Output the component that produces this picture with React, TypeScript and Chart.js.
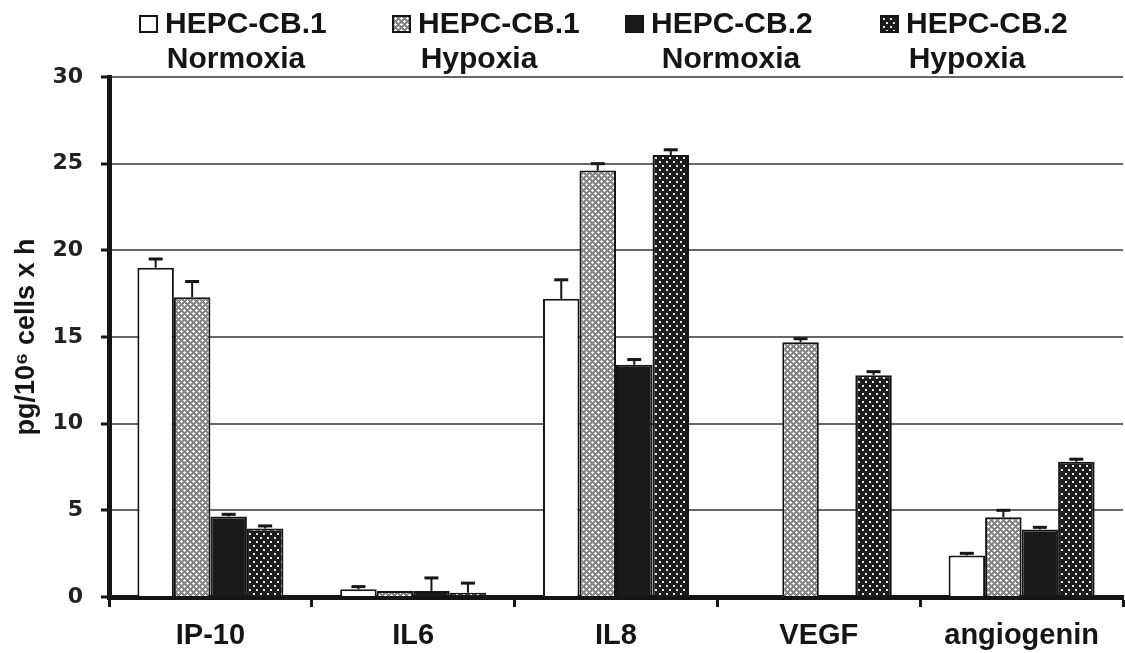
import React, { useEffect, useMemo, useRef } from "react";
import { Chart, registerables } from "chart.js";

Chart.register(...registerables);

// ---------- data ----------
const categories = ["IP-10", "IL6", "IL8", "VEGF", "angiogenin"];
const seriesLine1 = ["HEPC-CB.1", "HEPC-CB.1", "HEPC-CB.2", "HEPC-CB.2"];
const seriesLine2 = ["Normoxia", "Hypoxia", "Normoxia", "Hypoxia"];

const cb1Normoxia = [19.0, 0.45, 17.2, 0, 2.4];
const cb1Hypoxia = [17.3, 0.35, 24.6, 14.7, 4.6];
const cb2Normoxia = [4.65, 0.35, 13.4, 0, 3.9];
const cb2Hypoxia = [3.95, 0.25, 25.5, 12.8, 7.8];

const cb1NormoxiaErr = [0.5, 0.15, 1.1, 0, 0.12];
const cb1HypoxiaErr = [0.9, 0, 0.4, 0.2, 0.4];
const cb2NormoxiaErr = [0.12, 0.75, 0.3, 0, 0.12];
const cb2HypoxiaErr = [0.15, 0.55, 0.3, 0.2, 0.15];

const yTicks = [0, 5, 10, 15, 20, 25, 30];
const yTitle = "pg/10\u2076 cells x h";

// ---------- patterns ----------
type Kind = "white" | "hatch" | "black" | "dots";

function makeTile(kind: Kind): HTMLCanvasElement {
  const c = document.createElement("canvas");
  if (kind === "hatch") {
    c.width = 6;
    c.height = 6;
    const g = c.getContext("2d")!;
    g.fillStyle = "#858585";
    g.fillRect(0, 0, 6, 6);
    g.fillStyle = "#ffffff";
    const plus = (x: number, y: number) => {
      g.fillRect(x - 1, y, 3, 1);
      g.fillRect(x, y - 1, 1, 3);
    };
    plus(1, 1);
    plus(4, 4);
  } else if (kind === "dots") {
    c.width = 7;
    c.height = 8;
    const g = c.getContext("2d")!;
    g.fillStyle = "#1c1c1c";
    g.fillRect(0, 0, 7, 8);
    g.fillStyle = "#e6e6e6";
    g.fillRect(1, 1, 2, 2);
    g.fillRect(4, 5, 2, 2);
  } else {
    c.width = 4;
    c.height = 4;
    const g = c.getContext("2d")!;
    g.fillStyle = kind === "black" ? "#1a1a1a" : "#ffffff";
    g.fillRect(0, 0, 4, 4);
  }
  return c;
}

const kinds: Kind[] = ["white", "hatch", "black", "dots"];
const seriesValues = [cb1Normoxia, cb1Hypoxia, cb2Normoxia, cb2Hypoxia];
const seriesErrors = [cb1NormoxiaErr, cb1HypoxiaErr, cb2NormoxiaErr, cb2HypoxiaErr];

const errorBarPlugin = {
  id: "errorBars",
  afterDatasetsDraw(chart: any) {
    const ctx = chart.ctx as CanvasRenderingContext2D;
    const yScale = chart.scales.y;
    chart.data.datasets.forEach((ds: any, i: number) => {
      const meta = chart.getDatasetMeta(i);
      meta.data.forEach((el: any, j: number) => {
        const e = ds.errors ? ds.errors[j] : 0;
        if (!e) return;
        const v = ds.data[j];
        const yTop = yScale.getPixelForValue(v);
        const yCap = yScale.getPixelForValue(v + e);
        ctx.save();
        ctx.strokeStyle = "#151515";
        ctx.lineWidth = 2;
        ctx.beginPath();
        ctx.moveTo(el.x, yTop);
        ctx.lineTo(el.x, yCap);
        ctx.stroke();
        ctx.lineWidth = 3;
        ctx.beginPath();
        ctx.moveTo(el.x - 7, yCap);
        ctx.lineTo(el.x + 7, yCap);
        ctx.stroke();
        ctx.restore();
      });
    });
  },
};

// legend layout (pixels)
const legendSwatchX = [139, 392, 625, 880];
const legendLine2Center = [236, 479, 731, 967];

export default function App() {
  const canvasRef = useRef<HTMLCanvasElement | null>(null);

  const tiles = useMemo(() => kinds.map((k) => makeTile(k)), []);
  const tileUrls = useMemo(() => tiles.map((t) => t.toDataURL()), [tiles]);

  useEffect(() => {
    const canvas = canvasRef.current;
    if (!canvas) return;
    const ctx = canvas.getContext("2d")!;
    const fills = tiles.map((t) => ctx.createPattern(t, "repeat") as CanvasPattern);

    const chart = new Chart(canvas, {
      type: "bar",
      data: {
        labels: categories,
        datasets: seriesValues.map((vals, i) => ({
          label: seriesLine1[i] + " " + seriesLine2[i],
          data: vals,
          errors: seriesErrors[i],
          backgroundColor: fills[i],
          borderColor: "#151515",
          borderWidth: 2,
          categoryPercentage: 0.72,
          barPercentage: 1.0,
        })) as any,
      },
      options: {
        animation: false,
        responsive: false,
        maintainAspectRatio: false,
        layout: { padding: { top: 77, right: 2, left: 0, bottom: 0 } },
        plugins: {
          legend: { display: false },
          tooltip: { enabled: false },
        },
        scales: {
          x: {
            afterFit: (s: any) => {
              s.height = 56;
            },
            grid: {
              offset: true,
              drawOnChartArea: false,
              drawTicks: true,
              tickLength: 10,
              tickWidth: 3,
              tickColor: "#151515",
            },
            border: { display: true, color: "#151515", width: 5 },
            ticks: {
              color: "#151515",
              padding: 12,
              font: { family: "'Liberation Sans', Arial, sans-serif", size: 29, weight: "bold" },
            },
          },
          y: {
            min: 0,
            max: 30,
            afterFit: (s: any) => {
              s.width = 109;
            },
            afterBuildTicks: (s: any) => {
              s.ticks = yTicks.map((v) => ({ value: v }));
            },
            grid: {
              color: "#666666",
              lineWidth: 2,
              drawTicks: true,
              tickLength: 8,
              tickWidth: 3,
              tickColor: "#151515",
            },
            border: { display: true, color: "#151515", width: 5 },
            ticks: {
              color: "#222222",
              padding: 18,
              font: { family: "'DejaVu Sans', sans-serif", size: 22, weight: "bold" },
            },
            title: {
              display: true,
              text: yTitle,
              color: "#151515",
              padding: { top: 10, bottom: 0 },
              font: { family: "'Liberation Sans', Arial, sans-serif", size: 27, weight: "bold", lineHeight: 1.2 },
            },
          },
        },
      } as any,
      plugins: [errorBarPlugin],
    });
    return () => chart.destroy();
  }, [tiles]);

  const legendFont = "'Liberation Sans', Arial, sans-serif";

  return (
    <div
      style={{
        position: "fixed",
        left: 0,
        top: 0,
        width: 1125,
        height: 653,
        background: "#ffffff",
        overflow: "hidden",
      }}
    >
      <canvas ref={canvasRef} width={1125} height={653} style={{ display: "block", width: 1125, height: 653 }} />
      {seriesLine1.map((l1, i) => (
        <React.Fragment key={i}>
          <div
            style={{
              position: "absolute",
              left: legendSwatchX[i],
              top: 15,
              width: 15,
              height: 14,
              border: "2px solid #151515",
              backgroundImage: `url(${tileUrls[i]})`,
              backgroundRepeat: "repeat",
            }}
          />
          <div
            style={{
              position: "absolute",
              left: legendSwatchX[i] + 26,
              top: 8,
              font: `bold 30px ${legendFont}`,
              lineHeight: "30px",
              color: "#151515",
              whiteSpace: "nowrap",
            }}
          >
            {l1}
          </div>
          <div
            style={{
              position: "absolute",
              left: legendLine2Center[i] - 100,
              width: 200,
              top: 43,
              textAlign: "center",
              font: `bold 30px ${legendFont}`,
              lineHeight: "30px",
              color: "#151515",
              whiteSpace: "nowrap",
            }}
          >
            {seriesLine2[i]}
          </div>
        </React.Fragment>
      ))}
    </div>
  );
}
